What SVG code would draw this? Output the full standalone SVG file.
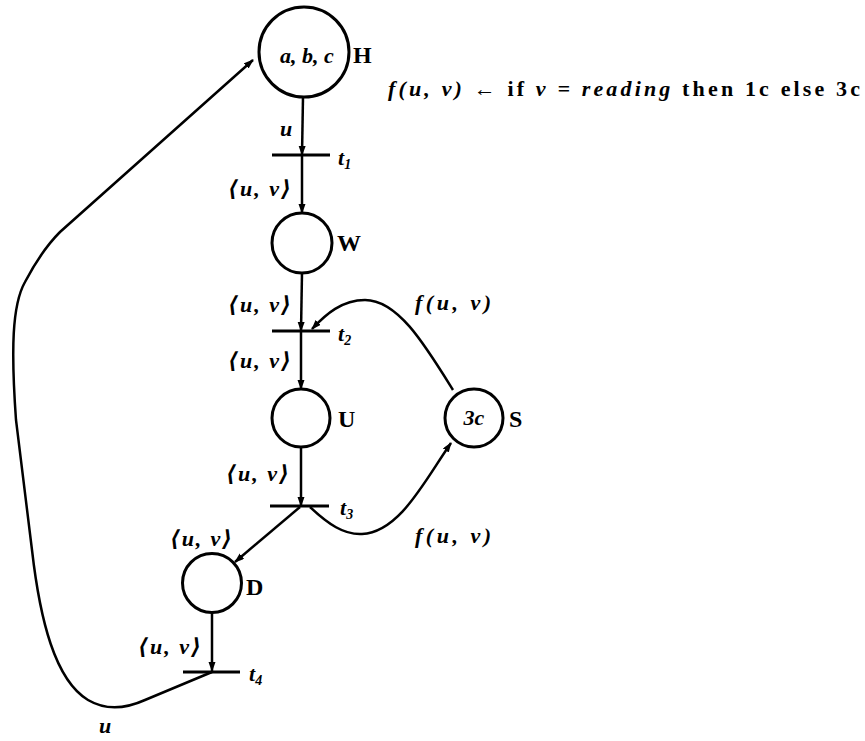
<svg xmlns="http://www.w3.org/2000/svg" width="865" height="741" viewBox="0 0 865 741">
<defs>
<marker id="ah" markerUnits="userSpaceOnUse" markerWidth="10" markerHeight="8" refX="9" refY="3.5" orient="auto">
<path d="M0,0 L10,3.5 L0,7 z" fill="#000"/>
</marker>
<style>
.place{fill:none;stroke:#000;stroke-width:3}
.bar{stroke:#000;stroke-width:3}
.arc{fill:none;stroke:#000;stroke-width:2.5;marker-end:url(#ah)}
.lbl{font-family:"Liberation Serif","DejaVu Serif",serif;font-style:italic;font-weight:bold;font-size:22px;fill:#000}
.name{font-family:"Liberation Serif","DejaVu Serif",serif;font-weight:bold;font-size:24px;fill:#000}
.up{font-style:normal}
</style>
</defs>
<rect width="865" height="741" fill="#fff"/>
<g id="connectors">
<path class="arc" d="M303 97 L302 155"/>
<path class="arc" d="M302 155 L302 213"/>
<path class="arc" d="M302 273 L301 331"/>
<path class="arc" d="M301 331 L301 389"/>
<path class="arc" d="M301 447 L301 506"/>
<path class="arc" d="M300 507 L235 562"/>
<path class="arc" d="M212 613 L212 671"/>
<path class="arc" d="M453 390 C425 345 398 300 365 300 C342 300 326 314 312 329"/>
<path class="arc" d="M310 507 C328 524 344 535 362 534 C400 532 425 480 451 443"/>
<path class="arc" d="M212 672 L145 700 C125 709 105 710 88 700 C55 680 40 620 32 550 L16 420 C11 350 12 305 25 282 C35 263 45 247 60 232 L253 60"/>
</g>
<g id="H">
<circle class="place" cx="304" cy="52" r="45"/>
<text class="lbl" x="307" y="63" text-anchor="middle" font-size="17">a, b, c</text>
<text class="name" x="353" y="63">H</text>
</g>
<g id="t1">
<line class="bar" x1="272" y1="155" x2="330" y2="155"/>
<text class="lbl" x="338" y="165">t<tspan font-size="14" dy="4">1</tspan></text>
</g>
<g id="W">
<circle class="place" cx="302" cy="243" r="30"/>
<text class="name" x="337" y="251">W</text>
</g>
<g id="t2">
<line class="bar" x1="272" y1="331" x2="330" y2="331"/>
<text class="lbl" x="338" y="341">t<tspan font-size="14" dy="4">2</tspan></text>
</g>
<g id="U">
<circle class="place" cx="301" cy="418" r="29"/>
<text class="name" x="338" y="427">U</text>
</g>
<g id="S">
<circle class="place" cx="474" cy="418" r="29"/>
<text class="lbl" x="474" y="425" text-anchor="middle" font-size="18">3c</text>
<text class="name" x="509" y="427">S</text>
</g>
<g id="t3">
<line class="bar" x1="270" y1="506" x2="329" y2="506"/>
<text class="lbl" x="340" y="515">t<tspan font-size="14" dy="4">3</tspan></text>
</g>
<g id="D">
<circle class="place" cx="212" cy="583" r="29.5"/>
<text class="name" x="246" y="595">D</text>
</g>
<g id="t4">
<line class="bar" x1="183" y1="672" x2="240" y2="672"/>
<text class="lbl" x="249" y="681">t<tspan font-size="14" dy="4">4</tspan></text>
</g>
<g id="labels">
<text class="lbl" x="280" y="136">u</text>
<text class="lbl" x="228" y="196" textLength="63" lengthAdjust="spacing">⟨u, v⟩</text>
<text class="lbl" x="228" y="312" textLength="63" lengthAdjust="spacing">⟨u, v⟩</text>
<text class="lbl" x="228" y="368" textLength="63" lengthAdjust="spacing">⟨u, v⟩</text>
<text class="lbl" x="226" y="481" textLength="63" lengthAdjust="spacing">⟨u, v⟩</text>
<text class="lbl" x="170" y="546" textLength="62" lengthAdjust="spacing">⟨u, v⟩</text>
<text class="lbl" x="138" y="654" textLength="63" lengthAdjust="spacing">⟨u, v⟩</text>
<text class="lbl" x="415" y="310" textLength="76" lengthAdjust="spacing">f(u, v)</text>
<text class="lbl" x="415" y="543" textLength="76" lengthAdjust="spacing">f(u, v)</text>
<text class="lbl" x="99" y="733">u</text>
<text class="lbl" x="388" y="96" font-size="23" textLength="472" lengthAdjust="spacing">f(u, v) ← <tspan class="up">if</tspan> v = reading <tspan class="up">then</tspan> <tspan class="up">1c</tspan> <tspan class="up">else</tspan> <tspan class="up">3c</tspan></text>
</g>
</svg>
